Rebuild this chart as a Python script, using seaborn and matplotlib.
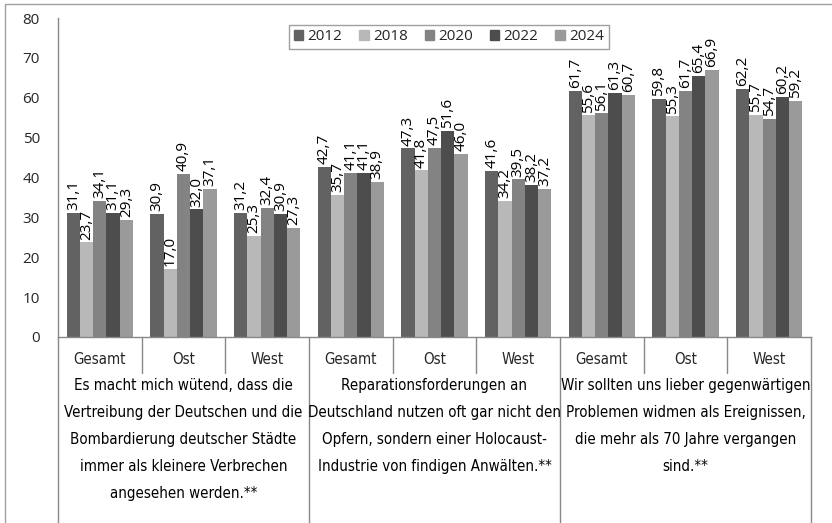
import matplotlib
matplotlib.use("Agg")
import matplotlib.pyplot as plt
import matplotlib.patches as mpatches
from matplotlib import font_manager as fm
import seaborn as sns
import pandas as pd

years = ["2012", "2018", "2020", "2022", "2024"]
sub_labels = ["Gesamt", "Ost", "West"] * 3
cat_keys = [f"{g}-{s}" for g in range(3) for s in ["Gesamt", "Ost", "West"]]
group_labels = [
    "Es macht mich wütend, dass die\nVertreibung der Deutschen und die\nBombardierung deutscher Städte\nimmer als kleinere Verbrechen\nangesehen werden.**",
    "Reparationsforderungen an\nDeutschland nutzen oft gar nicht den\nOpfern, sondern einer Holocaust-\nIndustrie von findigen Anwälten.**",
    "Wir sollten uns lieber gegenwärtigen\nProblemen widmen als Ereignissen,\ndie mehr als 70 Jahre vergangen\nsind.**",
]
v2012 = [31.1, 30.9, 31.2, 42.7, 47.3, 41.6, 61.7, 59.8, 62.2]
v2018 = [23.7, 17.0, 25.3, 35.7, 41.8, 34.2, 55.6, 55.3, 55.7]
v2020 = [34.1, 40.9, 32.4, 41.1, 47.5, 39.5, 56.1, 61.7, 54.7]
v2022 = [31.1, 32.0, 30.9, 41.1, 51.6, 38.2, 61.3, 65.4, 60.2]
v2024 = [29.3, 37.1, 27.3, 38.9, 46.0, 37.2, 60.7, 66.9, 59.2]
series = [v2012, v2018, v2020, v2022, v2024]
colors = ["#626262", "#b8b8b8", "#838383", "#4d4d4d", "#9a9a9a"]

rows = []
for y, vals in zip(years, series):
    for k, v in zip(cat_keys, vals):
        rows.append({"cat": k, "year": y, "value": v})
df = pd.DataFrame(rows)

sns.set_theme(style="white")
plt.rcParams["font.family"] = ["Open Sans", "DejaVu Sans"]

# condensed upright font for category texts, if one is installed
names = {f.name for f in fm.fontManager.ttflist}
cond = [f for f in fm.fontManager.ttflist
        if f.name == "DejaVu Sans" and f.style == "normal"
        and "ondensed" in f.fname and "Bold" not in f.fname
        and "Oblique" not in f.fname]
if "Liberation Sans Narrow" in names:
    narrow = fm.FontProperties(family="Liberation Sans Narrow")
    nsize = 13
elif cond:
    narrow = fm.FontProperties(fname=cond[0].fname)
    nsize = 10.8
else:
    narrow = fm.FontProperties(family="DejaVu Sans")
    nsize = 10

W, H = 832, 523
fig = plt.figure(figsize=(W / 100, H / 100), dpi=100)
ax = fig.add_axes([58 / W, 1 - 337 / H, (811 - 58) / W, (337 - 18) / H])

sns.barplot(data=df, x="cat", y="value", hue="year", order=cat_keys,
            hue_order=years, palette=colors, width=0.79, saturation=1,
            linewidth=0, ax=ax)

for cont, vals in zip(ax.containers, series):
    ax.bar_label(cont, labels=[f"{v:.1f}".replace(".", ",") for v in vals],
                 rotation=90, padding=2, fontsize=11, color="black")

ax.set_xlim(-0.5, 8.5)
ax.set_ylim(0, 80)
ax.set_yticks(range(0, 81, 10))
ax.tick_params(axis="y", length=5, width=1, color="#888888", pad=8, labelsize=11)
ax.set_xticks(range(9))
ax.set_xticklabels(sub_labels)
for t in ax.get_xticklabels():
    t.set_fontproperties(narrow)
    t.set_fontsize(nsize)
ax.tick_params(axis="x", length=0, pad=11)
ax.set_xlabel("")
ax.set_ylabel("")
for s in ["top", "right"]:
    ax.spines[s].set_visible(False)
for s in ["left", "bottom"]:
    ax.spines[s].set_color("#888888")
    ax.spines[s].set_linewidth(1)

tr = ax.get_xaxis_transform()
ax_h = 337 - 18
y_sub = (337 - 373) / ax_h
y_grp = (337 - 530) / ax_h
for x in [0.5, 1.5, 3.5, 4.5, 6.5, 7.5]:
    ax.plot([x, x], [0, y_sub], transform=tr, color="#888888", lw=1, clip_on=False)
for x in [-0.5, 2.5, 5.5, 8.5]:
    ax.plot([x, x], [0, y_grp], transform=tr, color="#888888", lw=1, clip_on=False)

for i, txt in enumerate(group_labels):
    t = ax.text(1 + 3 * i, (337 - 378) / ax_h, txt, transform=tr, ha="center", va="top",
                linespacing=2.0, color="black")
    t.set_fontproperties(narrow)
    t.set_fontsize(nsize)

handles = [mpatches.Patch(color=c, label=y) for c, y in zip(colors, years)]
ax.legend(handles=handles, ncol=5, loc="upper center",
          bbox_to_anchor=(449 / W, 1 - 17 / H), bbox_transform=fig.transFigure,
          frameon=True, fancybox=False, edgecolor="#888888", fontsize=11,
          handlelength=0.6, handleheight=0.6, handletextpad=0.3,
          columnspacing=1.1, borderpad=0.3)

fig.patches.append(mpatches.Rectangle((5 / W, -0.1), 1.2, 1.1 - 4 / H,
                                      transform=fig.transFigure, fill=False,
                                      edgecolor="#a0a0a0", lw=1))

fig.savefig("out.png", dpi=100)
